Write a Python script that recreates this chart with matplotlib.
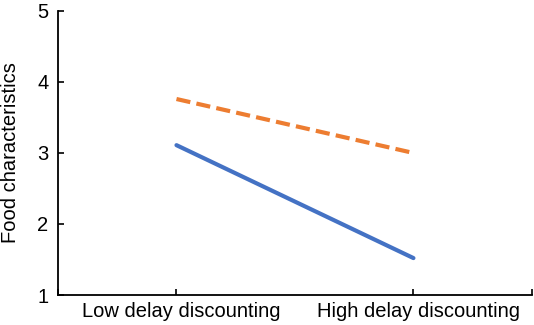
import matplotlib
matplotlib.use('Agg')
import matplotlib.pyplot as plt
import matplotlib.transforms as mtransforms

categories = ['Low delay discounting', 'High delay discounting']
series_solid = [3.11, 1.52]
series_dashed = [3.76, 3.0]

plt.rcParams['font.family'] = ['Liberation Sans', 'DejaVu Sans']

fig = plt.figure(figsize=(5.34, 3.25), dpi=100)
ax = fig.add_axes([0.1086, 0.0923, 0.8875, 0.874])

xs = [0.5, 1.5]
ax.plot(xs, series_solid, color='#4472C4', lw=3.0, solid_capstyle='round')
ax.plot(xs, series_dashed, color='#ED7D31', lw=3.0, linestyle=(0, (3.4, 1.5)))

ax.set_xlim(0, 2)
ax.set_ylim(1, 5)
ax.set_yticks([1, 2, 3, 4, 5])
ax.set_xticks(xs)
ax.set_xticklabels(categories)
ax.set_xticks([0, 2], minor=True)
ax.tick_params(axis='both', which='both', direction='in', labelsize=14.5, width=1.2, length=4, colors='black')
ax.tick_params(axis='x', pad=5)
ax.tick_params(axis='y', pad=7)
ax.set_ylabel('Food characteristics', fontsize=14.5, labelpad=12)

# labels sit a little right of their ticks in the original
shift = mtransforms.ScaledTranslation(5 / 100, 0, fig.dpi_scale_trans)
for lab in ax.get_xticklabels():
    lab.set_transform(lab.get_transform() + shift)

for s in ['top', 'right']:
    ax.spines[s].set_visible(False)
for s in ['left', 'bottom']:
    ax.spines[s].set_linewidth(1.3)

fig.savefig('out.png', dpi=100)
